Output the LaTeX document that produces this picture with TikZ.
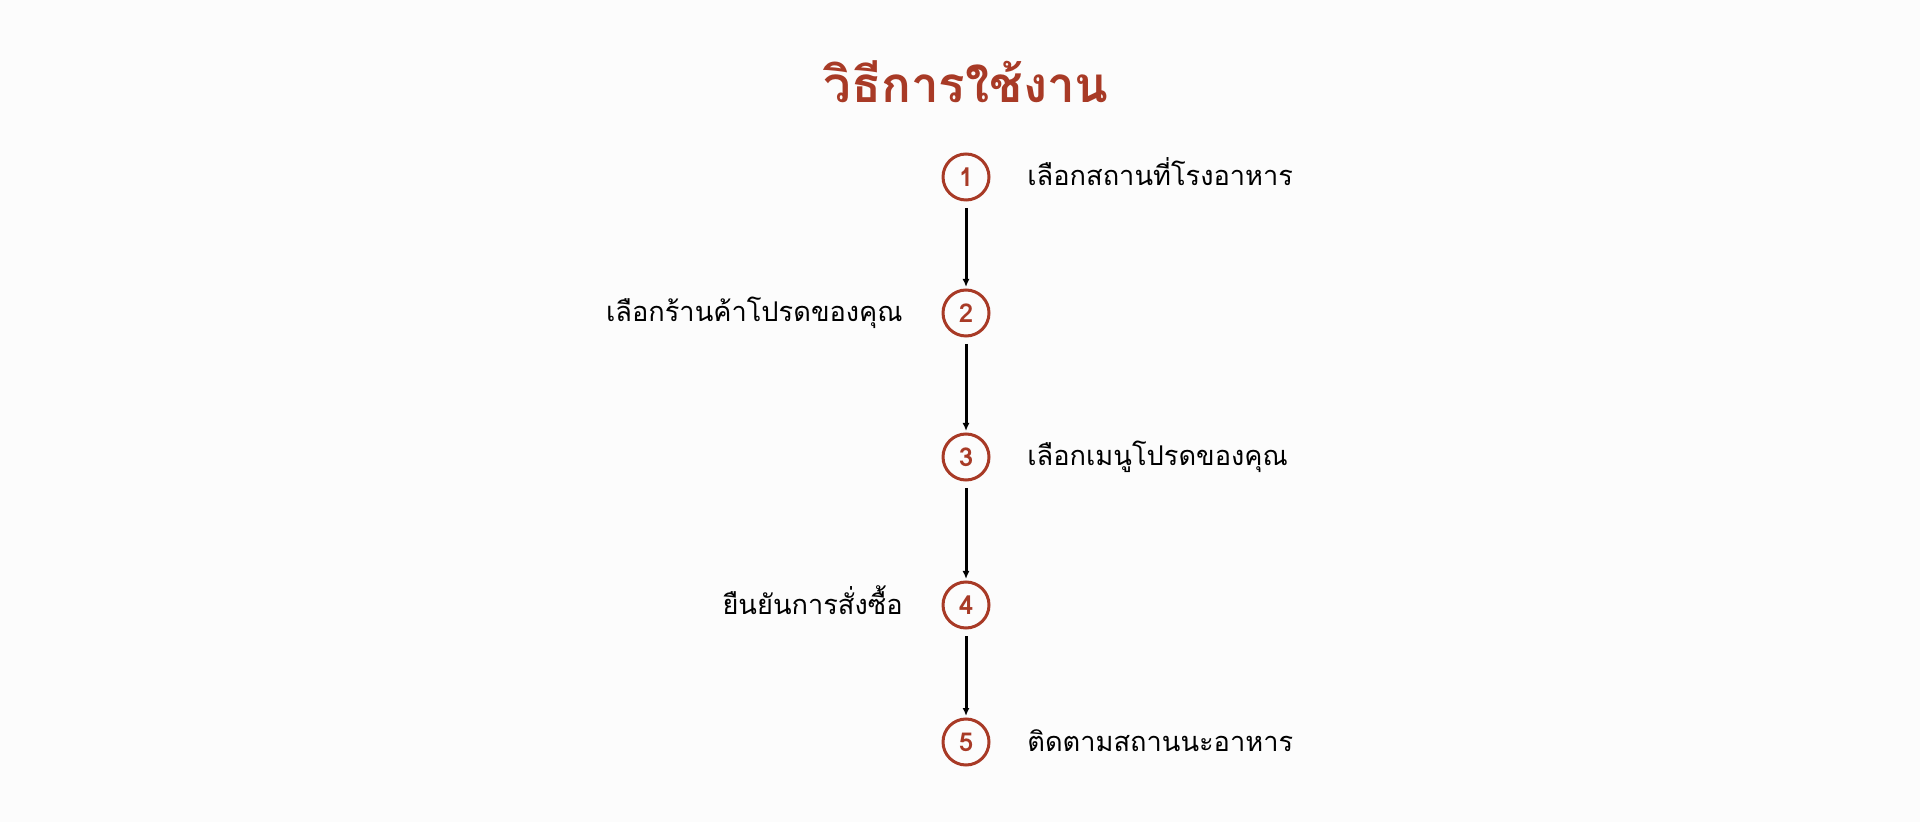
\documentclass[tikz,border=0pt]{standalone}
\usepackage{fontspec}
\newfontfamily\thaifont[Script=Thai]{Loma}
\usepackage{xcolor}
\usetikzlibrary{arrows.meta}
\definecolor{brick}{HTML}{A83A26}
\definecolor{paper}{HTML}{FCFCFC}
\tikzset{
    stepcirc/.style={draw=brick, circle, line width=1.5pt, inner sep=0pt, outer sep=0pt, minimum size=23pt, text=brick, font=\thaifont\bfseries\fontsize{13}{13}\selectfont},
    steptext/.style={inner sep=0pt, font=\thaifont\fontsize{13.6}{16}\selectfont},
    flow/.style={-{Latex[length=4pt,width=3.5pt]}, line width=1.5pt, shorten <=4pt, shorten >=1.5pt}}

\begin{document}
\begin{tikzpicture}[x=0.5pt,y=-0.5pt]
\fill[paper] (0,0) rectangle (1920,822);
\useasboundingbox (0,0) rectangle (1920,822);
\node[anchor = base, inner sep=0pt, text=brick, font=\thaifont\bfseries\fontsize{24.7}{28}\selectfont] (title) at (966,103) {วิธีการใช้งาน};
% steps
\node[stepcirc] (s1) at (966,177) {1};
\node[stepcirc] (s2) at (966,313) {2};
\node[stepcirc] (s3) at (966,457) {3};
\node[stepcirc] (s4) at (966,605) {4};
\node[stepcirc] (s5) at (966,742) {5};
\node[steptext, anchor = base west] (l1) at (1027,186) {เลือกสถานที่โรงอาหาร};
\node[steptext, anchor = base east] (l2) at (903,322) {เลือกร้านค้าโปรดของคุณ};
\node[steptext, anchor = base west] (l3) at (1027,466) {เลือกเมนูโปรดของคุณ};
\node[steptext, anchor = base east] (l4) at (903,614) {ยืนยันการสั่งซื้อ};
\node[steptext, anchor = base west] (l5) at (1027,751) {ติดตามสถานนะอาหาร};
\draw[flow] (s1)--(s2);
\draw[flow] (s2)--(s3);
\draw[flow] (s3)--(s4);
\draw[flow] (s4)--(s5);
\end{tikzpicture}
\end{document}
